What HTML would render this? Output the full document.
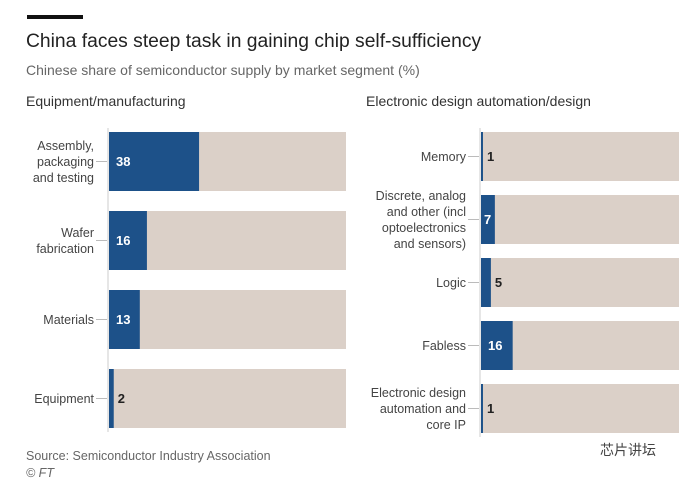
<!DOCTYPE html>
<html><head><meta charset="utf-8"><style>
body{margin:0;background:#fff;width:693px;height:481px;overflow:hidden;font-family:"Liberation Sans","Noto Sans CJK SC",sans-serif}
svg{display:block}
</style></head><body>
<svg id="c" width="693" height="481">
<rect x="27" y="15" width="56" height="4" fill="#111"/>
<text x="26" y="47" font-size="19.3" fill="#222">China faces steep task in gaining chip self-sufficiency</text>
<text x="26" y="75" font-size="14" fill="#666">Chinese share of semiconductor supply by market segment (%)</text>
<text x="26" y="106" font-size="14" fill="#333">Equipment/manufacturing</text>
<text x="366" y="106" font-size="14" fill="#333">Electronic design automation/design</text>
<text x="26" y="460" font-size="12.5" fill="#666">Source:  Semiconductor Industry Association</text>
<text x="26" y="477" font-size="12.5" fill="#666" font-style="italic">© FT</text>
<text x="600" y="455" font-size="14" fill="#444">芯片讲坛</text>
<g id="left"></g><g id="right"></g>
</svg>
<script>
const leftCats=[["Assembly,","packaging","and testing"],["Wafer","fabrication"],["Materials"],["Equipment"]];
const leftVals=[38,16,13,2];
const rightCats=[["Memory"],["Discrete, analog","and other (incl","optoelectronics","and sensors)"],["Logic"],["Fabless"],["Electronic design","automation and","core IP"]];
const rightVals=[1,7,5,16,1];
const NS="http://www.w3.org/2000/svg";
function mk(tag,attrs,parent){const e=document.createElementNS(NS,tag);for(const k in attrs)e.setAttribute(k,attrs[k]);parent.appendChild(e);return e;}
function panel(g,cats,vals,x0,x1,y0,step,h,name){
  const xs=v=>x0+(x1-x0)*v/100;
  const ax=mk('line',{x1:x0-1,x2:x0-1,y1:y0-4,y2:y0+step*(cats.length-1)+h+4,stroke:'#ccc','stroke-width':1},g);
  
  
  cats.forEach((c,i)=>{
    const y=y0+i*step, cy=y+h/2;
    const bg=mk('rect',{x:x0,y:y,width:x1-x0,height:h,fill:'#dbd0c8'},g);
    
    
    const b=mk('rect',{x:x0,y:y,width:xs(vals[i])-x0,height:h,fill:'#1d5189'},g);
    
    
    const w=xs(vals[i])-x0;
    const inside=w>=12;
    const t=mk('text',{x:inside?(w>20?x0+7:x0+3):xs(vals[i])+4,y:cy+4.5,'font-size':13,'font-weight':'bold',fill:inside?'#fff':'#222'},g);
    t.textContent=vals[i];
    
    
    const tk=mk('line',{x1:x0-13,x2:x0-2,y1:cy,y2:cy,stroke:'#bbb'},g);
    
    
    const lh=16, top=cy-(c.length-1)*lh/2+4.5;
    c.forEach((line,j)=>{
      const l=mk('text',{x:x0-15,y:top+j*lh,'font-size':12.5,fill:'#444','text-anchor':'end'},g);
      l.textContent=line;
      
      
    });
  });
}
panel(document.getElementById('left'),leftCats,leftVals,109,346,132,79,59,'left');
panel(document.getElementById('right'),rightCats,rightVals,481,679,132,63,49,'right');
</script>
</body></html>
